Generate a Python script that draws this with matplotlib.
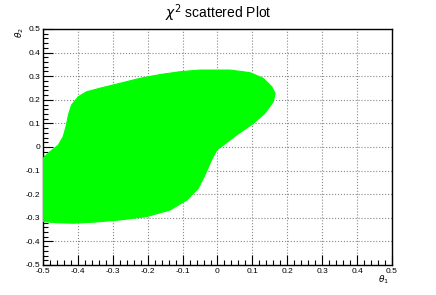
import matplotlib
matplotlib.use('Agg')
import matplotlib.pyplot as plt
from matplotlib.ticker import MultipleLocator

# outline of the accepted (theta1, theta2) region
theta1_edge = [-0.500, -0.480, -0.456, -0.442, -0.434, -0.427, -0.418, -0.399,
               -0.375, -0.337, -0.279, -0.222, -0.160, -0.107, -0.050, 0.036,
               0.093, 0.131, 0.155, 0.165, 0.160, 0.136, 0.103, 0.055, 0.017,
               -0.002, -0.017, -0.036, -0.055, -0.088, -0.136, -0.203, -0.279,
               -0.350, -0.413, -0.460, -0.500]
theta2_edge = [-0.048, -0.020, 0.008, 0.044, 0.086, 0.136, 0.178, 0.213,
               0.234, 0.249, 0.270, 0.291, 0.308, 0.319, 0.326, 0.326,
               0.315, 0.291, 0.256, 0.228, 0.192, 0.143, 0.100, 0.051, 0.008,
               -0.013, -0.055, -0.119, -0.175, -0.225, -0.267, -0.295, -0.309,
               -0.318, -0.323, -0.321, -0.316]

plt.rcParams['font.family'] = ['Liberation Sans', 'DejaVu Sans']

fig = plt.figure(figsize=(4.36, 2.95), dpi=100)
ax = fig.add_axes([0.0986, 0.1017, 0.8005, 0.8000])

ax.fill(theta1_edge, theta2_edge, color='#00ff00', lw=0.8, ec='#00ff00', zorder=3)

ax.set_xlim(-0.5, 0.5)
ax.set_ylim(-0.5, 0.5)
ax.xaxis.set_major_locator(MultipleLocator(0.1))
ax.yaxis.set_major_locator(MultipleLocator(0.1))
ax.xaxis.set_minor_locator(MultipleLocator(0.02))
ax.yaxis.set_minor_locator(MultipleLocator(0.02))
ax.xaxis.set_major_formatter(lambda v, p: '0' if abs(v) < 1e-9 else ('%g' % round(v, 2)))
ax.yaxis.set_major_formatter(lambda v, p: '0' if abs(v) < 1e-9 else ('%g' % round(v, 2)))

ax.tick_params(which='both', direction='in', top=False, right=False,
               labelsize=6, width=0.8, colors='black', pad=2)
ax.tick_params(which='major', length=7)
ax.tick_params(which='minor', length=3.5)
for s in ax.spines.values():
    s.set_linewidth(1.0)

ax.grid(True, which='major', linestyle=':', color='#888888', lw=0.8, zorder=1)
ax.set_axisbelow(True)

fig.text(0.5, 0.955, r'$\chi^{2}$ scattered Plot', ha='center', va='center', fontsize=10)
fig.text(0.045, 0.89, r'$\theta_{2}$', rotation=90, ha='center', va='center', fontsize=6.5)
fig.text(0.88, 0.05, r'$\theta_{1}$', ha='center', va='center', fontsize=6.5)

fig.savefig('out.png', dpi=100)
